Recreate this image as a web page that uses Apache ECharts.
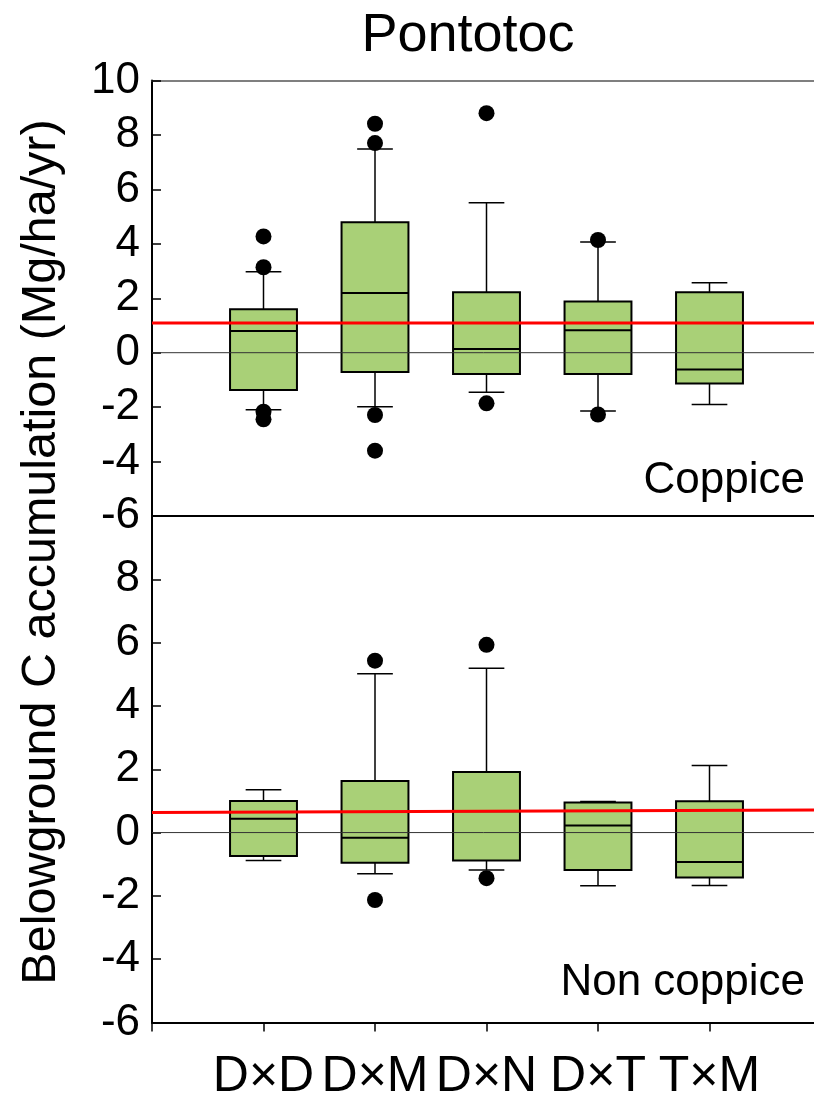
<!DOCTYPE html>
<html>
<head>
<meta charset="utf-8">
<script src="https://cdn.jsdelivr.net/npm/echarts@6/dist/echarts.min.js"></script>
<style>html,body{margin:0;padding:0;background:#fff}#c{width:814px;height:1104px}</style>
</head>
<body>
<div id="c"></div>
<script>
// ---- data ----
const categories = ['D×D', 'D×M', 'D×N', 'D×T', 'T×M'];
const yTicks = [-6, -4, -2, 0, 2, 4, 6, 8, 10];
// [min, Q1, median, Q3, max]
const coppiceBoxes = [
  [-2.10, -1.37, 0.80, 1.60, 2.97],
  [-1.99, -0.71, 2.19, 4.79, 7.48],
  [-1.45, -0.78, 0.14, 2.22, 5.51],
  [-2.14, -0.78, 0.82, 1.88, 4.07],
  [-1.90, -1.13, -0.62, 2.22, 2.57]
];
const coppiceOutliers = [
  [4.27, 3.14, -2.17, -2.45],
  [8.41, 7.70, -2.29, -3.60],
  [8.80, -1.86],
  [4.14, -2.27],
  []
];
const nonCoppiceBoxes = [
  [-0.88, -0.74, 0.44, 1.00, 1.35],
  [-1.30, -0.95, -0.16, 1.63, 5.02],
  [-1.18, -0.88, 0.67, 1.91, 5.19],
  [-1.68, -1.18, 0.22, 0.95, 0.98],
  [-1.67, -1.42, -0.93, 0.99, 2.12]
];
const nonCoppiceOutliers = [
  [],
  [5.43, -2.13],
  [5.93, -1.44],
  [],
  []
];
const coppiceMeanLine = [1.09, 1.09];      // value at left / right end
const nonCoppiceMeanLine = [0.63, 0.71];

// ---- build ----
const axisCats = [''].concat(categories).concat(['']);
const FONT = '"Liberation Sans", Arial, sans-serif';
const lastIdx = axisCats.length - 1;

function boxData(boxes) {
  return boxes.map((b, i) => [i + 1].concat(b));
}
function outlierData(outs) {
  const r = [];
  outs.forEach((arr, i) => arr.forEach(v => r.push([i + 1, v])));
  return r;
}
function renderBox(params, api) {
  const x = api.value(0);
  const lo = api.coord([x, api.value(1)]);
  const q1 = api.coord([x, api.value(2)]);
  const md = api.coord([x, api.value(3)]);
  const q3 = api.coord([x, api.value(4)]);
  const hi = api.coord([x, api.value(5)]);
  const step = api.coord([1, 0])[0] - api.coord([0, 0])[0];
  const cx = lo[0];
  const hw = step * 0.30, cw = step * 0.16;
  const ws = { stroke: '#000', lineWidth: 1.5 };
  return {
    type: 'group',
    children: [
      { type: 'line', shape: { x1: cx, y1: q3[1], x2: cx, y2: hi[1] }, style: ws },
      { type: 'line', shape: { x1: cx, y1: q1[1], x2: cx, y2: lo[1] }, style: ws },
      { type: 'line', shape: { x1: cx - cw, y1: hi[1], x2: cx + cw, y2: hi[1] }, style: ws },
      { type: 'line', shape: { x1: cx - cw, y1: lo[1], x2: cx + cw, y2: lo[1] }, style: ws },
      { type: 'rect', shape: { x: cx - hw, y: q3[1], width: 2 * hw, height: q1[1] - q3[1] },
        style: { fill: '#a9d077', stroke: '#000', lineWidth: 2 } },
      { type: 'line', shape: { x1: cx - hw, y1: md[1], x2: cx + hw, y2: md[1] }, style: { stroke: '#000', lineWidth: 2 } }
    ]
  };
}

function yAxisCfg(gi, hideTop) {
  return {
    type: 'value', gridIndex: gi, min: yTicks[0], max: yTicks[yTicks.length - 1], interval: 2,
    splitLine: { show: false },
    axisLine: { show: true, onZero: false, lineStyle: { color: '#000', width: 2 } },
    axisTick: { show: true, inside: true, length: 9, lineStyle: { color: '#000', width: 1.5 } },
    axisLabel: {
      color: '#000', fontSize: 44, fontFamily: FONT, margin: 12,
      formatter: v => (hideTop && v === yTicks[yTicks.length - 1]) ? '' : String(v)
    }
  };
}

function panelSeries(gi, boxes, outs, mean) {
  const xi = gi === 0 ? 0 : 2;
  return [
    { type: 'custom', xAxisIndex: xi, yAxisIndex: gi, renderItem: renderBox,
      data: boxData(boxes), encode: { x: 0, y: [1, 2, 3, 4, 5] }, z: 2, silent: true },
    { type: 'line', xAxisIndex: xi, yAxisIndex: gi, data: [[0, 0], [lastIdx, 0]],
      symbol: 'none', lineStyle: { color: '#333', width: 1 }, z: 3, silent: true },
    { type: 'line', xAxisIndex: xi, yAxisIndex: gi, data: [[0, mean[0]], [lastIdx, mean[1]]],
      symbol: 'none', lineStyle: { color: '#ff0000', width: 3 }, z: 4, silent: true },
    { type: 'scatter', xAxisIndex: xi, yAxisIndex: gi, data: outlierData(outs),
      symbol: 'circle', symbolSize: 16, itemStyle: { color: '#000', opacity: 1 }, z: 5, silent: true }
  ];
}

const chart = echarts.init(document.getElementById('c'), null, { renderer: 'canvas' });
chart.setOption({
  animation: false,
  backgroundColor: '#fff',
  grid: [
    { left: 152, top: 80.5, width: 669, height: 435.5, outerBoundsMode: 'none', containLabel: false },
    { left: 152, top: 516, width: 669, height: 506.5, outerBoundsMode: 'none', containLabel: false }
  ],
  xAxis: [
    { type: 'category', gridIndex: 0, data: axisCats, boundaryGap: false, position: 'bottom',
      axisLine: { onZero: false, lineStyle: { color: '#000', width: 2 } }, axisTick: { show: false }, axisLabel: { show: false } },
    { type: 'category', gridIndex: 0, data: axisCats, boundaryGap: false, position: 'top',
      axisLine: { onZero: false, lineStyle: { color: '#555', width: 1.5 } }, axisTick: { show: false }, axisLabel: { show: false } },
    { type: 'category', gridIndex: 1, data: axisCats, boundaryGap: false, position: 'bottom',
      axisLine: { onZero: false, lineStyle: { color: '#000', width: 2 } },
      axisTick: { show: true, length: 9, lineStyle: { color: '#000', width: 1.5 } },
      axisLabel: { color: '#000', fontSize: 50, fontFamily: FONT, margin: 30, interval: 0 } }
  ],
  yAxis: [yAxisCfg(0, false), yAxisCfg(1, true)],
  graphic: [
    { type: 'text', x: 468, y: 36, style: { text: 'Pontotoc', font: '54px ' + FONT, fill: '#000', textAlign: 'center', textVerticalAlign: 'middle', verticalAlign: 'middle' } },
    { type: 'text', x: 42, y: 552, rotation: Math.PI / 2, style: { text: 'Belowground C accumulation (Mg/ha/yr)', font: '48.5px ' + FONT, fill: '#000', textAlign: 'center', textVerticalAlign: 'middle', verticalAlign: 'middle' } },
    { type: 'text', x: 805, y: 481, style: { text: 'Coppice', font: '44px ' + FONT, fill: '#000', textAlign: 'right', textVerticalAlign: 'middle', verticalAlign: 'middle' } },
    { type: 'text', x: 805, y: 983, style: { text: 'Non coppice', font: '44px ' + FONT, fill: '#000', textAlign: 'right', textVerticalAlign: 'middle', verticalAlign: 'middle' } }
  ],
  series: [].concat(
    panelSeries(0, coppiceBoxes, coppiceOutliers, coppiceMeanLine),
    panelSeries(1, nonCoppiceBoxes, nonCoppiceOutliers, nonCoppiceMeanLine)
  )
});
</script>
</body>
</html>
